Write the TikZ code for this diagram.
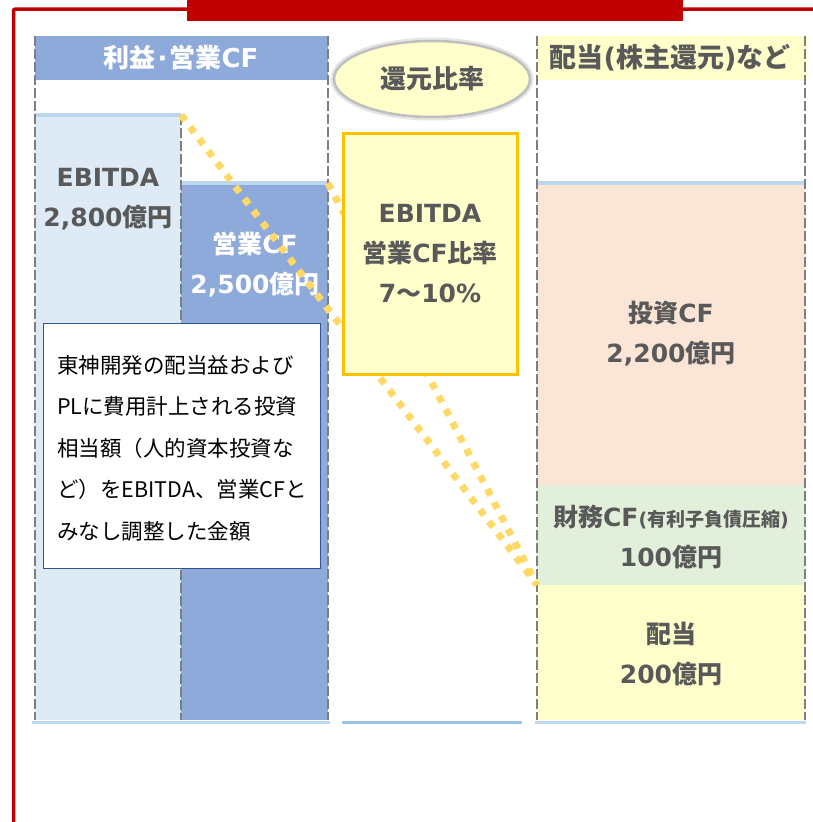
\documentclass[tikz,border=0pt]{standalone}
\usepackage{fontspec}
\usetikzlibrary{shapes.geometric}
\newfontfamily\jp{Noto Sans CJK JP}
\newfontfamily\lt{DejaVu Sans}
\newcommand\lat[1]{{\lt #1}}
\definecolor{redc}{HTML}{C00000}
\definecolor{hblue}{HTML}{8EAADB}
\definecolor{lblue}{HTML}{DEEBF7}
\definecolor{topl}{HTML}{BDD7EE}
\definecolor{midl}{HTML}{9DC3E6}
\definecolor{lyel}{HTML}{FFFFCC}
\definecolor{orng}{HTML}{FFC000}
\definecolor{peach}{HTML}{FBE5D6}
\definecolor{lgreen}{HTML}{E2EFDA}
\definecolor{dotc}{HTML}{FFD966}
\definecolor{txtg}{HTML}{595959}
\definecolor{dgray}{HTML}{7F7F7F}
\definecolor{cbord}{HTML}{2F5597}
\begin{document}
\begin{tikzpicture}[x=1pt,y=-1pt,
  bar/.style={inner sep=0pt, outer sep=0pt, anchor=north west},
  topline/.style={draw=topl, line width=3.2pt},
  colline/.style={draw=dgray, line width=2.7pt, dash pattern=on 10pt off 3pt},
  dotline/.style={draw=dotc, line width=7pt, dash pattern=on 7pt off 8pt},
  bigtxt/.style={font=\jp\bfseries\fontsize{25}{40}\selectfont, text=txtg, align=center, inner sep=0pt},
  hdtxt/.style={font=\jp\bfseries\fontsize{26}{30}\selectfont, inner sep=0pt},
]
\useasboundingbox (0,0) rectangle (813,822);
\fill[white] (0,0) rectangle (813,822);

% red frame
\draw[redc, line width=3.5pt, rounded corners=2pt] (13.5,822) -- (13.5,9) -- (813,9);
\fill[redc] (187,0) rectangle (683,21);

% headers
\node[bar, fill=hblue, minimum width=293, minimum height=44] (hdl) at (35,36) {};
\node[hdtxt, text=white] (hdltxt) at (181,58) {利益\hspace{2pt}\lat{·}\hspace{2pt}営業\lat{CF}};
\node[bar, fill=lyel, minimum width=270, minimum height=44] (hdr) at (537,36) {};
\node[hdtxt, text=txtg, font=\jp\bfseries\fontsize{27}{30}\selectfont] (hdrtxt) at (670,58) {配当\lat{(}株主還元\lat{)}など};

% bars
\node[bar, fill=lblue, minimum width=146, minimum height=605] (ebitda) at (35,115) {};
\node[bar, fill=hblue, minimum width=147, minimum height=537] (eigyo) at (181,183) {};
\node[bar, fill=peach, minimum width=268, minimum height=302] (toshi) at (537,183) {};
\node[bar, fill=lgreen, minimum width=268, minimum height=100] (zaimu) at (537,485) {};
\node[bar, fill=lyel, minimum width=268, minimum height=135] (haito) at (537,585) {};

\draw[topline] (ebitda.north west) -- (ebitda.north east);
\draw[topline] (eigyo.north west) -- (eigyo.north east);
\draw[topline] (toshi.north west) -- (toshi.north east);

% bottom lines
\draw[topline] (32,722.5) -- (330,722.5);
\draw[topline, draw=midl] (342,722.5) -- (522,722.5);
\draw[topline] (535,722.5) -- (806,722.5);

% column dashed lines
\draw[colline] (35,36) -- (35,720);
\draw[colline] (181,115) -- (181,720);
\draw[colline] (328,36) -- (328,720);
\draw[colline] (537,36) -- (537,720);
\draw[colline] (805,36) -- (805,720);

% bar texts
\node[bigtxt] (ebtxt) at (108,199) {\lat{EBITDA}\\\lat{2,800}億円};
\node[bigtxt, text=white] (egtxt) at (255,265) {営業\lat{CF}\\\lat{2,500}億円};
\node[bigtxt] (tstxt) at (671,334) {投資\lat{CF}\\\lat{2,200}億円};
\node[bigtxt] (zmtxt) at (671,537) {財務\lat{CF}{\fontsize{19}{20}\selectfont\lat{(}有利子負債圧縮\lat{)}}\\\lat{100}億円};
\node[bigtxt] (hatxt) at (671,654) {配当\\\lat{200}億円};

% dotted lines
\draw[dotline] (ebitda.north east) -- (haito.north west);
\draw[dotline] (eigyo.north east) -- (haito.north west);

% ratio box
\node[bar, draw=orng, line width=3pt, fill=lyel, minimum width=174, minimum height=241] (ratiobox) at (343.5,133.5) {};
\node[bigtxt] (ratiotxt) at (430,253.5) {\lat{EBITDA}\\営業\lat{CF}比率\\\lat{7}〜\lat{10\%}};

% ellipse
\node[ellipse, draw=gray!50, line width=2.5pt, fill=lyel, preaction={draw=gray!20, line width=7pt}, minimum width=196, minimum height=76, inner sep=0pt, hdtxt, text=txtg] (ratio) at (432,79) {還元比率};

% callout
\node[bar, draw=cbord, line width=1.2pt, fill=white, minimum width=277, minimum height=245] (note) at (43.5,323.5) {};
\node[anchor=west, align=left, font=\jp\fontsize{21.5}{41.5}\selectfont, inner sep=0pt] (notetxt) at (57,448) {東神開発の配当益および\\PLに費用計上される投資\\相当額（人的資本投資な\\ど）をEBITDA、営業CFと\\みなし調整した金額};
\end{tikzpicture}
\end{document}
